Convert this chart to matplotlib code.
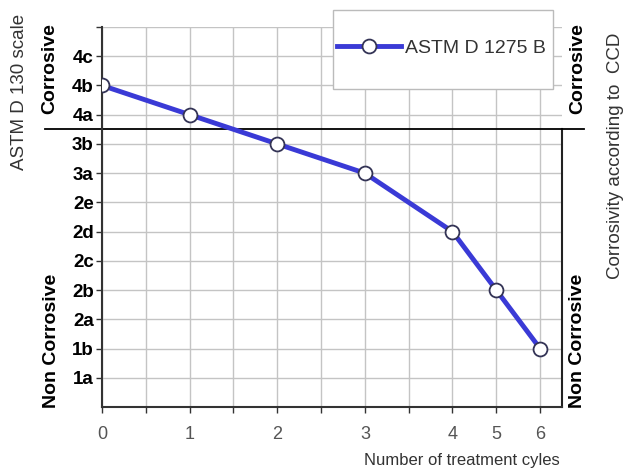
import matplotlib.pyplot as plt
from matplotlib.patches import Rectangle
from matplotlib.ticker import FixedLocator

# data
cycles = ['0', '1', '2', '3', '4', '5', '6']
cycle_pos = [0, 2, 4, 6, 8, 9, 10]          # positions on the (non-uniform) x axis
astm_labels = ['1a', '1b', '2a', '2b', '2c', '2d', '2e', '3a', '3b', '4a', '4b', '4c']
astm_values = ['4b', '4a', '3b', '3a', '2d', '2b', '1b']
limit_level = 9.5                             # corrosive / non corrosive border

y_of = {lab: i + 1 for i, lab in enumerate(astm_labels)}
y_vals = [y_of[v] for v in astm_values]

plt.rcParams['font.family'] = ['Liberation Sans', 'DejaVu Sans']

fig = plt.figure(figsize=(6.26, 4.71), dpi=100)
ax = fig.add_axes([102 / 626, 1 - 407 / 471, 460 / 626, 380 / 471])

ax.set_xlim(0, 10.5)
ax.set_ylim(0, 13)

# grid
ax.xaxis.set_major_locator(FixedLocator(cycle_pos))
ax.xaxis.set_minor_locator(FixedLocator([1, 3, 5, 7]))
ax.set_xticklabels(cycles, fontsize=13, color='#555555')
ax.yaxis.set_major_locator(FixedLocator(range(1, 13)))
ax.yaxis.set_minor_locator(FixedLocator([13]))
ax.set_yticklabels(astm_labels, fontsize=13.5, fontweight='bold')
ax.grid(True, which='both', color='#c4c4c4', linewidth=1)
ax.set_axisbelow(True)

ax.tick_params(which='both', direction='out', length=4, width=1, color='#333333')
ax.tick_params(axis='x', pad=10)
ax.tick_params(axis='y', pad=2)

for s in ['top', 'right']:
    ax.spines[s].set_visible(False)
for s in ['left', 'bottom']:
    ax.spines[s].set_color('#333333')
    ax.spines[s].set_linewidth(1.5)

# right border only below the limit line
ax.plot([10.5, 10.5], [0, limit_level], color='#222222', lw=1.5, clip_on=False)
# corrosive limit line
ax.plot([-1.3, 11.0], [limit_level, limit_level], color='black', lw=1.3, clip_on=False)

line, = ax.plot(cycle_pos, y_vals, color='#3a3ad6', lw=3.5, marker='o', markersize=10,
                markerfacecolor='white', markeredgecolor='#333355', markeredgewidth=1.3,
                label='ASTM D 1275 B', zorder=3)

# legend box (taller than matplotlib's own frame)
box = Rectangle((333 / 626, 1 - 89 / 471), 220 / 626, 79 / 471, transform=fig.transFigure,
                facecolor='white', edgecolor='#bbbbbb', linewidth=1, zorder=5)
fig.patches.append(box)
leg = fig.legend(handles=[line], loc='center', bbox_to_anchor=(441 / 626, 1 - 48 / 471),
                 frameon=False, handlelength=3.3, handletextpad=0.2, prop={'size': 14})
leg.set_zorder(6)
for t in leg.get_texts():
    t.set_color('#333333')

fig.text(462 / 626, 1 - 460 / 471, 'Number of treatment cyles', ha='center', va='center',
         fontsize=12, color='#333333')

# side labels
fig.text(20 / 626, 1 - 92 / 471, 'ASTM D 130 scale', rotation=90, ha='center',
         va='center', fontsize=13.5, color='#333333')
fig.text(50 / 626, 1 - 69 / 471, 'Corrosive', rotation=90, ha='center', va='center',
         fontsize=14, fontweight='bold')
fig.text(52 / 626, 1 - 341 / 471, 'Non Corrosive', rotation=90, ha='center',
         va='center', fontsize=14, fontweight='bold')
fig.text(578 / 626, 1 - 69 / 471, 'Corrosive', rotation=90, ha='center', va='center',
         fontsize=14, fontweight='bold')
fig.text(578 / 626, 1 - 341 / 471, 'Non Corrosive', rotation=90, ha='center',
         va='center', fontsize=14, fontweight='bold')
fig.text(615 / 626, 1 - 156 / 471, 'Corrosivity according to  CCD', rotation=90,
         ha='center', va='center', fontsize=13.5, color='#333333')

fig.savefig('out.png', dpi=100)
